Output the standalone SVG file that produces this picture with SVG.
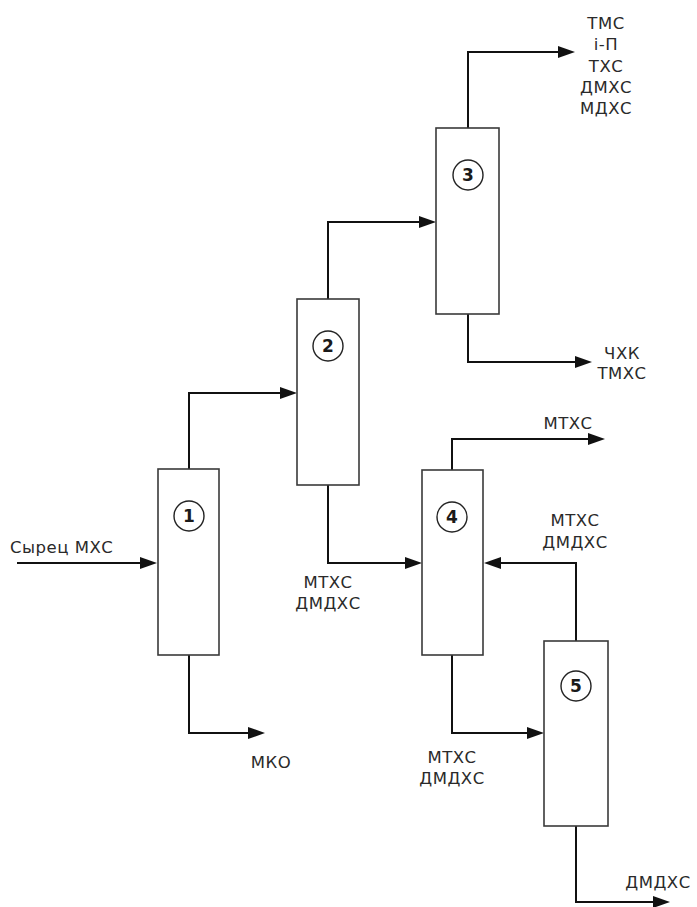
<svg xmlns="http://www.w3.org/2000/svg" width="697" height="907" viewBox="0 0 697 907">
<style>
.col{fill:#fff;stroke:#3a3a3a;stroke-width:1.6}
.num{fill:#fff;stroke:#222;stroke-width:1.4}
.nt{font-family:"DejaVu Sans",Verdana,sans-serif;font-size:17px;font-weight:bold;fill:#1a1a1a;text-anchor:middle}
.lb{font-family:"DejaVu Sans",Verdana,sans-serif;font-size:16.5px;letter-spacing:0.5px;fill:#2a2a2a;text-anchor:middle}
.ln{fill:none;stroke:#111;stroke-width:2;marker-end:url(#ah)}
</style>
<defs>
<marker id="ah" markerUnits="userSpaceOnUse" markerWidth="18" markerHeight="12" refX="7" refY="6" orient="auto">
<path d="M0,0 L17,6 L0,12 Z" fill="#111"/>
</marker>
</defs>
<rect width="697" height="907" fill="#fff"/>
<g id="connectors">
<path class="ln" d="M17,563 H147"/>
<path class="ln" d="M189,469 V393 H287"/>
<path class="ln" d="M328,299 V222 H426"/>
<path class="ln" d="M468,128 V52 H565"/>
<path class="ln" d="M468,314 V362 H582"/>
<path class="ln" d="M328,485 V563 H412"/>
<path class="ln" d="M452,470 V439 H595"/>
<path class="ln" d="M576,641 V563 H494"/>
<path class="ln" d="M452,655 V733 H534"/>
<path class="ln" d="M576,826 V902 H660"/>
<path class="ln" d="M189,655 V733 H255"/>
</g>
<g id="col1">
<rect class="col" x="158" y="469" width="61" height="186"/>
<circle class="num" cx="189" cy="516" r="15"/>
<text class="nt" x="189" y="522">1</text>
</g>
<g id="col2">
<rect class="col" x="297" y="299" width="62" height="186"/>
<circle class="num" cx="328" cy="346" r="15"/>
<text class="nt" x="328" y="352">2</text>
</g>
<g id="col3">
<rect class="col" x="436" y="128" width="63" height="186"/>
<circle class="num" cx="468" cy="175" r="15"/>
<text class="nt" x="468" y="181">3</text>
</g>
<g id="col4">
<rect class="col" x="422" y="470" width="61" height="185"/>
<circle class="num" cx="452" cy="517" r="15"/>
<text class="nt" x="452" y="523">4</text>
</g>
<g id="col5">
<rect class="col" x="544" y="641" width="64" height="185"/>
<circle class="num" cx="576" cy="686" r="15"/>
<text class="nt" x="576" y="692">5</text>
</g>
<g id="labels">
<text class="lb" x="10" y="553" style="text-anchor:start">Сырец МХС</text>
<text class="lb" x="271" y="768">МКО</text>
<text class="lb" x="606" y="29">ТМС</text>
<text class="lb" x="606" y="50">i-П</text>
<text class="lb" x="606" y="72">ТХС</text>
<text class="lb" x="606" y="93">ДМХС</text>
<text class="lb" x="606" y="114">МДХС</text>
<text class="lb" x="622" y="359">ЧХК</text>
<text class="lb" x="622" y="379">ТМХС</text>
<text class="lb" x="568" y="429">МТХС</text>
<text class="lb" x="575" y="526">МТХС</text>
<text class="lb" x="575" y="548">ДМДХС</text>
<text class="lb" x="328" y="588">МТХС</text>
<text class="lb" x="328" y="609">ДМДХС</text>
<text class="lb" x="452" y="763">МТХС</text>
<text class="lb" x="452" y="784">ДМДХС</text>
<text class="lb" x="658" y="888">ДМДХС</text>
</g>
</svg>
